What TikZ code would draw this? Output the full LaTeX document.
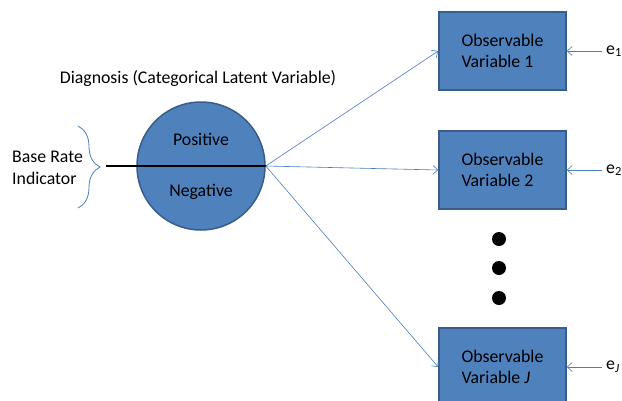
\documentclass[tikz,border=0pt]{standalone}
\usepackage{fontspec}
\setmainfont{Carlito}
\usetikzlibrary{arrows.meta,decorations.pathreplacing}

\definecolor{boxfill}{HTML}{4F81BD}
\definecolor{boxline}{HTML}{385D8A}
\definecolor{linkblue}{HTML}{4A7EBB}

\tikzset{
  obsbox/.style={draw=boxline,line width=1.5pt,fill=boxfill,minimum width=127pt,
    minimum height=78pt,inner sep=0pt,align=left},
  link/.style={draw=linkblue,line width=0.6pt,-{Straight Barb[length=5pt,width=9pt]}},
  errlabel/.style={anchor=west,inner sep=4pt}
}

\begin{document}
\begin{tikzpicture}[x=1pt,y=-1pt,font=\fontsize{17.8}{21.7}\selectfont]
\useasboundingbox (0,0) rectangle (622,400);

%% Latent variable
\node[circle,draw=boxline,line width=1.5pt,fill=boxfill,minimum size=128pt,inner sep=0pt] (diag) at (201,166) {};
\node (diaglabel) at (198,79) {Diagnosis (Categorical Latent Variable)};
\node (pos) at (201,139) {Positive};
\node (neg) at (201,192) {Negative};

%% Base rate
\coordinate (bstart) at (106,166);
\draw[line width=2.5pt] (bstart)--(diag.east);
\coordinate (btop) at (78,126);
\coordinate (bbot) at (78,208);
\draw[draw=linkblue,line width=0.8pt,decorate,decoration={brace,amplitude=22pt}] (btop)--(bbot);
\node[anchor=west,align=left,inner sep=0pt] (base) at (12,168) {Base Rate\\Indicator};

%% Observable variables
\node[obsbox] (obs1) at (502.5,51) {Observable\\Variable 1};
\node[obsbox] (obs2) at (502.5,170) {Observable\\Variable 2};
\node[obsbox] (obsJ) at (502.5,367) {Observable\\Variable \textit{J}};

%% Dots
\node[circle,fill,inner sep=0pt,minimum size=14pt] (dot1) at (499,239) {};
\node[circle,fill,inner sep=0pt,minimum size=14pt] (dot2) at (499,268) {};
\node[circle,fill,inner sep=0pt,minimum size=14pt] (dot3) at (499,298) {};

%% Errors
\node[errlabel] (e1) at (602,51) {e\textsubscript{1}};
\node[errlabel] (e2) at (602,170) {e\textsubscript{2}};
\node[errlabel] (eJ) at (602,367) {e\textsubscript{\itshape J}};

\foreach \b in {obs1,obs2,obsJ}
  \draw[link] (diag.east)--(\b.west);
\draw[link] (e1.west)--(obs1.east);
\draw[link] (e2.west)--(obs2.east);
\draw[link] (eJ.west)--(obsJ.east);

\end{tikzpicture}
\end{document}
